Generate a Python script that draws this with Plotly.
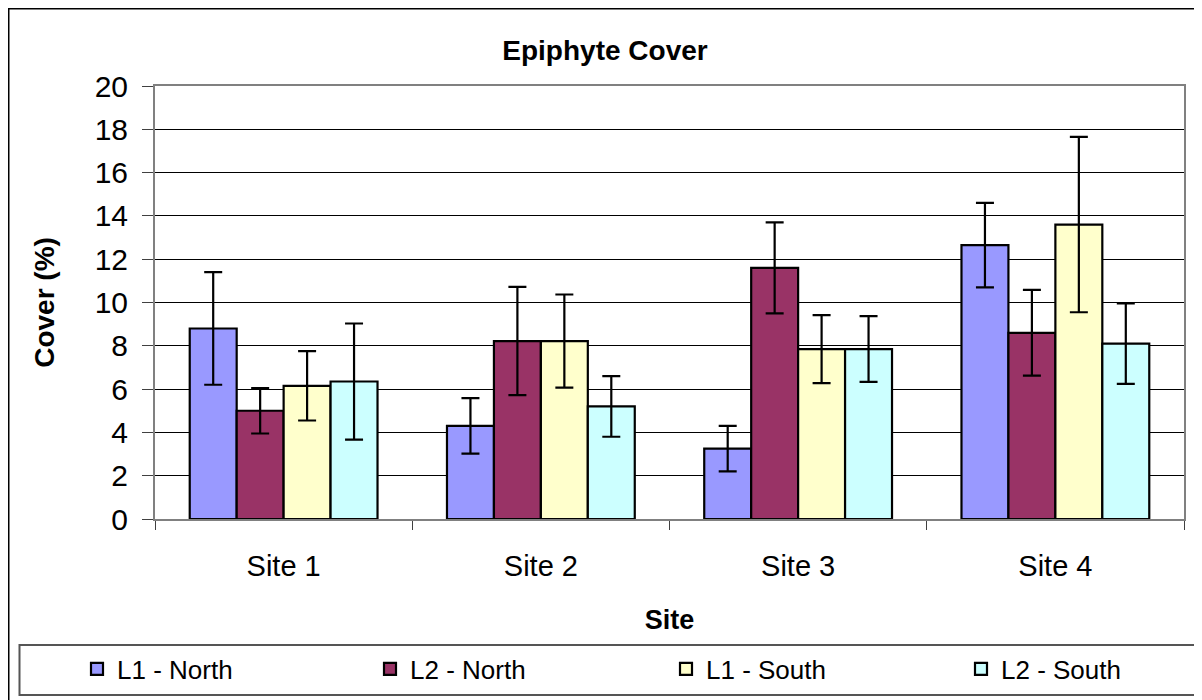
import plotly.graph_objects as go

sites = ["Site 1", "Site 2", "Site 3", "Site 4"]
series_names = ["L1 - North", "L2 - North", "L1 - South", "L2 - South"]
l1_north = [8.8, 4.3, 3.25, 12.65]
l1_north_err = [2.6, 1.28, 1.05, 1.95]
l2_north = [5.0, 8.22, 11.6, 8.6]
l2_north_err = [1.05, 2.5, 2.1, 1.98]
l1_south = [6.15, 8.22, 7.85, 13.6]
l1_south_err = [1.6, 2.15, 1.57, 4.05]
l2_south = [6.35, 5.2, 7.85, 8.1]
l2_south_err = [2.68, 1.4, 1.52, 1.86]
colors = ["#9999FF", "#993366", "#FFFFCC", "#CCFFFF"]
y_ticks = [0, 2, 4, 6, 8, 10, 12, 14, 16, 18, 20]

FONT = "Arial, Liberation Sans, sans-serif"

# figure sized to fit the page (body has an 8px margin)
W, H = 1194, 692
L, R, T, B = 147, 18, 78, 181
PW, PH = W - L - R, H - T - B


def px_x(p):
    return (p - L) / PW


def px_y(p):
    return (H - B - p) / PH


legend_names = ["legend", "legend2", "legend3", "legend4"]
legend_x = [69, 362, 658, 953]

fig = go.Figure()
for name, vals, errs, col, lg in zip(
    series_names,
    [l1_north, l2_north, l1_south, l2_south],
    [l1_north_err, l2_north_err, l1_south_err, l2_south_err],
    colors,
    legend_names,
):
    fig.add_trace(
        go.Bar(
            name=name,
            x=sites,
            y=vals,
            legend=lg,
            marker=dict(color=col, line=dict(color="black", width=2.2)),
            error_y=dict(type="data", array=errs, visible=True,
                         color="black", thickness=2.2, width=9),
        )
    )

legend_common = dict(
    orientation="h",
    yanchor="middle",
    font=dict(size=26, family=FONT),
    bgcolor="rgba(0,0,0,0)",
    borderwidth=0,
)
legends = {}
for lg, lx in zip(legend_names, legend_x):
    legends[lg] = dict(legend_common, x=px_x(lx), xanchor="left", y=px_y(661))

fig.update_layout(
    width=W,
    height=H,
    margin=dict(l=L, r=R, t=T, b=B, autoexpand=False),
    paper_bgcolor="white",
    plot_bgcolor="white",
    barmode="group",
    bargap=0.27,
    bargroupgap=0,
    font=dict(family=FONT, color="black"),
    title=dict(text="<b>Epiphyte Cover</b>", x=0.5, xanchor="center",
               y=1 - 42 / H, yanchor="middle", font=dict(size=28, family=FONT)),
    showlegend=True,
    **legends,
    xaxis=dict(
        type="category",
        tickson="boundaries",
        ticks="outside",
        ticklen=9,
        tickcolor="#404040",
        tickwidth=1,
        ticklabelstandoff=20,
        tickfont=dict(size=29, family=FONT),
        showline=True,
        linecolor="#808080",
        linewidth=2,
        mirror=True,
        showgrid=False,
        title=dict(text="<b>Site</b>", font=dict(size=27, family=FONT), standoff=29),
    ),
    yaxis=dict(
        range=[0, 20],
        tickvals=y_ticks,
        ticks="outside",
        ticklen=11,
        tickcolor="#404040",
        tickwidth=1,
        ticklabelstandoff=8,
        tickfont=dict(size=30, family=FONT),
        showline=True,
        linecolor="#808080",
        linewidth=2,
        mirror=True,
        showgrid=True,
        gridcolor="black",
        gridwidth=1,
        zeroline=False,
        title=dict(text="<b>Cover (%)</b>", font=dict(size=28, family=FONT), standoff=32),
    ),
    shapes=[
        dict(type="rect", xref="paper", yref="paper",
             x0=px_x(0.75), x1=px_x(1210), y0=px_y(0.75), y1=px_y(710),
             line=dict(color="black", width=1.5), fillcolor="rgba(0,0,0,0)", layer="below"),
        dict(type="rect", xref="paper", yref="paper",
             x0=px_x(11.5), x1=px_x(1193), y0=px_y(637), y1=px_y(687),
             line=dict(color="#555555", width=2), fillcolor="rgba(0,0,0,0)", layer="below"),
    ],
)

fig.write_html("out.html")
